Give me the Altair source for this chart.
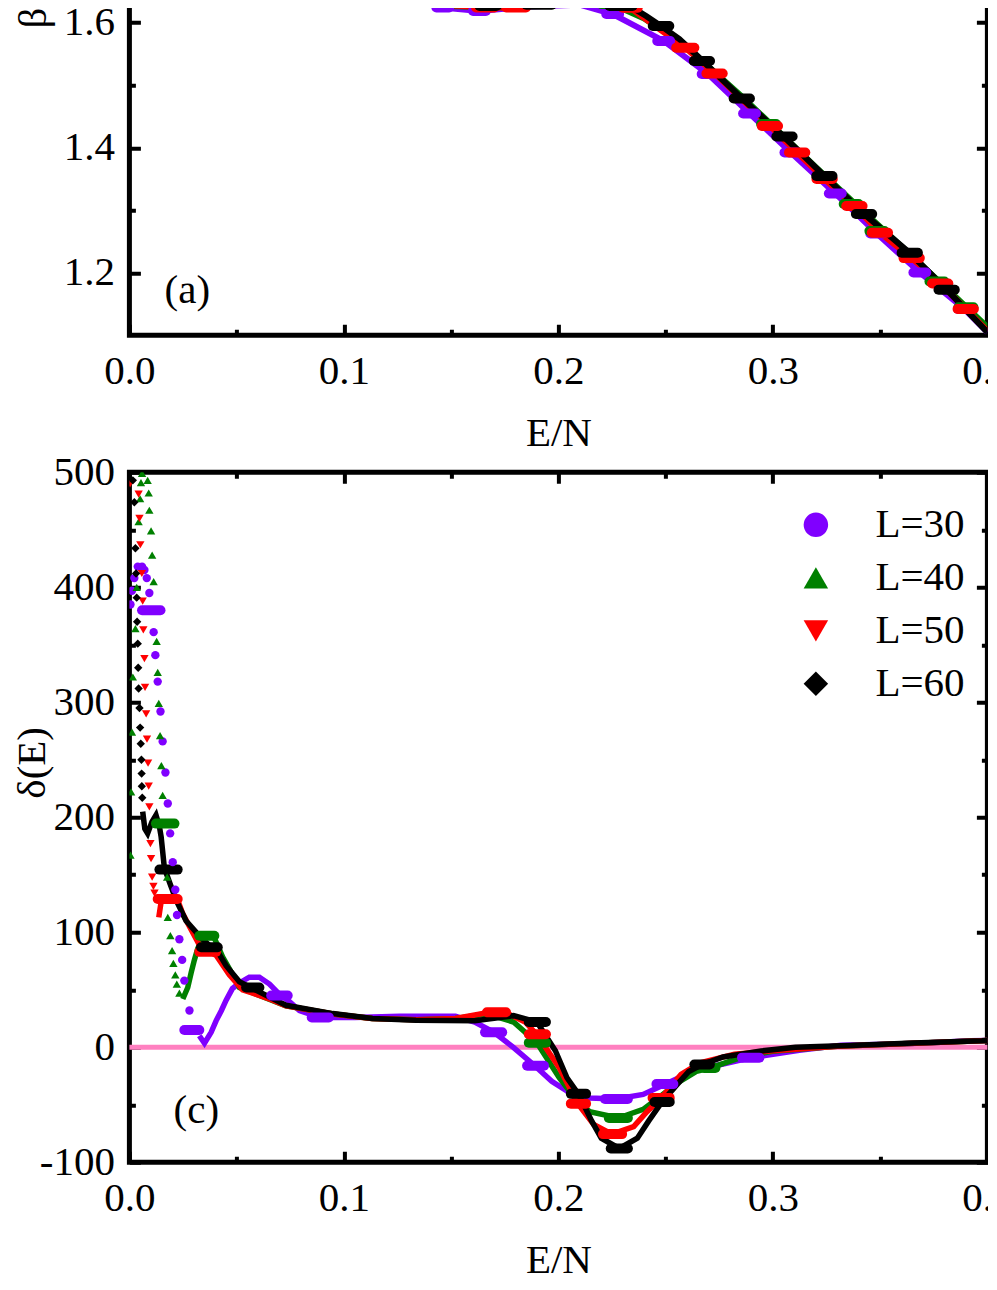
import altair as alt
import pandas as pd

# ---------------- categories / styling ----------------
SERIES = ["L=30", "L=40", "L=50", "L=60"]
COLORS = ["#8000ff", "#008000", "#ff0000", "#000000"]
SHAPES = ["circle", "triangle-up", "triangle-down", "diamond"]
PINK = "#ff80c0"
FONT = "Liberation Serif"
FS = 41

X_TICKS = [0.0, 0.1, 0.2, 0.3, 0.4]
X_MINOR = [0.05, 0.15, 0.25, 0.35]
A_Y_TICKS = [1.2, 1.4, 1.6]
A_Y_MINOR = [1.3, 1.5]
C_Y_TICKS = [-100, 0, 100, 200, 300, 400, 500]
C_Y_MINOR = [-50, 50, 150, 250, 350, 450]

# ---------------- panel (a): beta(E) ----------------
a30_line_E = [0.134, 0.146, 0.163, 0.1865, 0.210, 0.2253, 0.2491, 0.2698, 0.2891, 0.3084, 0.3291, 0.3484, 0.3685, 0.3893, 0.400]
a30_line_b = [1.640, 1.6245, 1.619, 1.626, 1.629, 1.614, 1.571, 1.518, 1.455, 1.3925, 1.327, 1.263, 1.2005, 1.142, 1.105]
a40_line_E = [0.134, 0.150, 0.170, 0.190, 0.210, 0.225, 0.240, 0.2585, 0.2855, 0.300, 0.320, 0.340, 0.360, 0.380, 0.400]
a40_line_b = [1.640, 1.627, 1.624, 1.628, 1.633, 1.630, 1.607, 1.565, 1.482, 1.435, 1.369, 1.305, 1.242, 1.178, 1.113]
a50_line_E = [0.134, 0.150, 0.166, 0.180, 0.200, 0.215, 0.2335, 0.245, 0.2592, 0.2728, 0.2986, 0.3113, 0.3241, 0.338, 0.3499, 0.3647, 0.378, 0.3899, 0.400]
a50_line_b = [1.640, 1.628, 1.6245, 1.6245, 1.632, 1.632, 1.624, 1.595, 1.560, 1.519, 1.435, 1.3925, 1.350, 1.307, 1.264, 1.2235, 1.183, 1.142, 1.107]
a60_line_E = [0.134, 0.140, 0.150, 0.163, 0.171, 0.185, 0.197, 0.2036, 0.216, 0.224, 0.2346, 0.2409, 0.2478, 0.2564, 0.2657, 0.2855, 0.305, 0.324, 0.3425, 0.3637, 0.381, 0.3986, 0.400]
a60_line_b = [1.645, 1.636, 1.631, 1.627, 1.626, 1.628, 1.630, 1.634, 1.632, 1.628, 1.624, 1.611, 1.595, 1.574, 1.544, 1.479, 1.418, 1.355, 1.294, 1.232, 1.173, 1.110, 1.105]

a30_blob_E0 = [0.1431, 0.1602, 0.2223, 0.2461, 0.2668, 0.2861, 0.3054, 0.3261, 0.3454, 0.3655, 0.3863]
a30_blob_E1 = [0.1491, 0.1662, 0.2283, 0.2521, 0.2728, 0.2921, 0.3114, 0.3321, 0.3514, 0.3715, 0.3923]
a30_blob_b = [1.6245, 1.619, 1.614, 1.571, 1.518, 1.455, 1.3925, 1.327, 1.263, 1.2005, 1.142]
a40_blob_E0 = [0.2200, 0.2945, 0.3330, 0.3450, 0.3730, 0.3865]
a40_blob_E1 = [0.2280, 0.3015, 0.3400, 0.3520, 0.3800, 0.3935]
a40_blob_b = [1.630, 1.438, 1.310, 1.267, 1.186, 1.145]
a50_blob_E0 = [0.1616, 0.1756, 0.2300, 0.2549, 0.2690, 0.2948, 0.3075, 0.3203, 0.3342, 0.3461, 0.3609, 0.3742, 0.3861]
a50_blob_E1 = [0.1702, 0.1849, 0.2370, 0.2634, 0.2766, 0.3024, 0.3151, 0.3279, 0.3418, 0.3537, 0.3685, 0.3818, 0.3937]
a50_blob_b = [1.6245, 1.6245, 1.624, 1.560, 1.519, 1.435, 1.3925, 1.350, 1.307, 1.264, 1.2235, 1.183, 1.142]
a60_blob_E0 = [0.1632, 0.1850, 0.2238, 0.2440, 0.2631, 0.2817, 0.3016, 0.3202, 0.3387, 0.3600, 0.3772]
a60_blob_E1 = [0.1710, 0.1970, 0.2346, 0.2517, 0.2707, 0.2893, 0.3092, 0.3278, 0.3463, 0.3676, 0.3848]
a60_blob_b = [1.627, 1.629, 1.627, 1.595, 1.539, 1.479, 1.418, 1.355, 1.294, 1.232, 1.173]

# ---------------- panel (c): delta(E) ----------------
c30_pts_E = [0.0005, 0.0012, 0.0023, 0.0039, 0.0059, 0.0070, 0.0081, 0.0093, 0.0113, 0.0121, 0.0132, 0.0145, 0.0155, 0.0168, 0.0179, 0.0190, 0.0202, 0.0214, 0.0222, 0.0233, 0.0246, 0.0256, 0.0280]
c30_pts_d = [385, 397, 408, 418, 418, 415, 408, 395, 361, 341, 318, 292, 266, 239, 212, 186, 161, 137, 115, 94, 76, 58, 32]
c40_pts_E = [0.0005, 0.0008, 0.0012, 0.0016, 0.0028, 0.0034, 0.0043, 0.0050, 0.0054, 0.0059, 0.0085, 0.0090, 0.0093, 0.0101, 0.0106, 0.0113, 0.0127, 0.0132, 0.0137, 0.0143, 0.0149, 0.0155, 0.0176, 0.0179, 0.0191, 0.0199, 0.0205, 0.0214, 0.0221, 0.0233]
c40_pts_d = [167, 222, 274, 322, 364, 400, 457, 477, 491, 499, 493, 482, 467, 449, 428, 405, 353, 326, 299, 271, 245, 219, 148, 113, 97, 84, 73, 63, 55, 47]
c50_pts_E = [0.0003, 0.0043, 0.0047, 0.0051, 0.0058, 0.0062, 0.0065, 0.0070, 0.0073, 0.0078, 0.0082, 0.0087, 0.0090, 0.0093, 0.0098, 0.0101, 0.0106, 0.0112, 0.0117]
c50_pts_d = [490, 481, 460, 437, 412, 388, 363, 338, 313, 290, 268, 247, 227, 209, 177, 164, 148, 140, 134]
c60_pts_E = [0.0016, 0.0023, 0.0028, 0.0031, 0.0034, 0.0036, 0.0039, 0.0041, 0.0043, 0.0047, 0.0050, 0.0053, 0.0056, 0.0057, 0.0058, 0.0060]
c60_pts_d = [493, 474, 434, 412, 391, 370, 351, 330, 312, 295, 278, 264, 250, 238, 227, 217]

c30_line_E = [0.0326, 0.0350, 0.0381, 0.0404, 0.0429, 0.0451, 0.0480, 0.0513, 0.0559, 0.0606, 0.0653, 0.0700, 0.0745, 0.0793, 0.0886, 0.1050, 0.1260, 0.1520, 0.1610, 0.1700, 0.1790, 0.1890, 0.1969, 0.2040, 0.2146, 0.2270, 0.2395, 0.2500, 0.2626, 0.2732, 0.2900, 0.3123, 0.3318, 0.3531, 0.3709, 0.3922, 0.4000]
c30_line_d = [10, 3.5, 13, 23, 32, 41, 51, 56, 61, 61, 55, 46, 40, 32, 26, 26, 27, 27, 22, 13, 0, -16, -29.5, -38, -44, -45, -41, -32, -21, -16, -9, -2.6, 1.7, 2.6, 3.8, 5.6, 6]
c40_line_E = [0.0249, 0.0272, 0.0288, 0.0303, 0.0319, 0.0350, 0.0380, 0.0396, 0.0435, 0.0482, 0.0513, 0.0580, 0.0730, 0.0950, 0.1130, 0.1340, 0.1520, 0.1667, 0.1791, 0.1900, 0.2004, 0.2076, 0.2146, 0.2280, 0.2395, 0.2466, 0.2555, 0.2643, 0.2705, 0.2856, 0.2999, 0.3300, 0.3600, 0.4000]
c40_line_d = [42, 52, 65, 76, 86, 97, 97, 95, 78.5, 63, 52, 47, 36, 29, 25, 24, 25, 29, 22, 4, -26.5, -44, -56, -61.5, -54, -44, -31, -21, -18, -8.5, -3.5, 1, 3, 6]
c50_line_E = [0.0137, 0.0150, 0.0180, 0.0225, 0.0249, 0.0280, 0.0326, 0.0365, 0.0404, 0.0466, 0.0528, 0.0575, 0.0668, 0.0730, 0.0950, 0.1130, 0.1340, 0.1520, 0.1667, 0.1756, 0.1845, 0.1900, 0.2004, 0.2090, 0.2164, 0.2250, 0.2351, 0.2413, 0.2480, 0.2572, 0.2661, 0.2821, 0.3000, 0.3300, 0.3600, 0.4000]
c50_line_d = [113, 129, 129, 128, 116, 105, 89, 84, 80, 63, 50, 47, 41, 36, 29, 25, 24, 25, 30, 30, 22, 11, -17.7, -49, -67, -75.5, -69, -56, -44, -23.6, -13.4, -6, -3, 1, 3, 6]
c60_line_E = [0.0062, 0.0072, 0.0085, 0.0105, 0.0124, 0.0140, 0.0148, 0.0163, 0.0190, 0.0218, 0.0264, 0.0326, 0.0370, 0.0412, 0.0451, 0.0513, 0.0575, 0.0730, 0.0948, 0.1134, 0.1336, 0.1610, 0.1791, 0.1900, 0.1986, 0.2040, 0.2093, 0.2155, 0.2200, 0.2284, 0.2368, 0.2421, 0.2483, 0.2555, 0.2608, 0.2670, 0.2768, 0.2945, 0.3105, 0.3389, 0.3655, 0.3975, 0.4000]
c60_line_d = [205, 190, 186, 196, 202, 192, 183, 156, 142, 128, 110, 97, 89, 83, 71, 57, 51, 36.5, 29.3, 25, 23.5, 23, 27.5, 22, -3, -26.5, -40.5, -64, -79, -88, -79, -64, -47.5, -32, -21, -15, -8.4, -3.2, 0, 1.8, 3.8, 5.6, 6]

c30_blob_E0 = [0.0059, 0.0256, 0.0661, 0.0850, 0.1658, 0.1854, 0.2217, 0.2457, 0.2856]
c30_blob_E1 = [0.0145, 0.0326, 0.0738, 0.0930, 0.1738, 0.1933, 0.2324, 0.2536, 0.2937]
c30_blob_d = [380, 15, 45, 26, 13, -16, -45, -32, -9]
c40_blob_E0 = [0.0124, 0.0326, 0.1862, 0.2235, 0.2679]
c40_blob_E1 = [0.0210, 0.0396, 0.1942, 0.2324, 0.2732]
c40_blob_d = [194.5, 97, 4, -61.5, -18]
c50_blob_E0 = [0.0132, 0.0326, 0.1667, 0.1862, 0.2058, 0.2208, 0.2439]
c50_blob_E1 = [0.0225, 0.0404, 0.1756, 0.1942, 0.2129, 0.2297, 0.2519]
c50_blob_d = [129, 83, 30.4, 11.4, -49, -75.5, -44]
c60_blob_E0 = [0.0140, 0.0334, 0.0544, 0.1862, 0.2058, 0.2244, 0.2448, 0.2634]
c60_blob_E1 = [0.0225, 0.0412, 0.0606, 0.1942, 0.2129, 0.2324, 0.2519, 0.2706]
c60_blob_d = [154.5, 87, 52, 22, -40.5, -88, -47.5, -15]

# panel tags
A_TAG, A_TAG_E, A_TAG_V = "(a)", 0.027, 1.171
C_TAG, C_TAG_E, C_TAG_V = "(c)", 0.0312, -55

# ---------------- layout ----------------
W = 858
H_A = 375
H_C = 690


def table(groups, cols):
    rows = []
    for name, arrays in zip(SERIES, groups):
        for i, vals in enumerate(zip(*arrays)):
            row = {"L": name, "i": i}
            row.update(dict(zip(cols, vals)))
            rows.append(row)
    return pd.DataFrame(rows)


a_lines = table([(a30_line_E, a30_line_b), (a40_line_E, a40_line_b), (a50_line_E, a50_line_b), (a60_line_E, a60_line_b)], ["E", "v"])
a_blobs = table([(a30_blob_E0, a30_blob_E1, a30_blob_b), (a40_blob_E0, a40_blob_E1, a40_blob_b),
                 (a50_blob_E0, a50_blob_E1, a50_blob_b), (a60_blob_E0, a60_blob_E1, a60_blob_b)], ["E0", "E1", "v"])
c_pts = table([(c30_pts_E, c30_pts_d), (c40_pts_E, c40_pts_d), (c50_pts_E, c50_pts_d), (c60_pts_E, c60_pts_d)], ["E", "v"])
c_lines = table([(c30_line_E, c30_line_d), (c40_line_E, c40_line_d), (c50_line_E, c50_line_d), (c60_line_E, c60_line_d)], ["E", "v"])
c_blobs = table([(c30_blob_E0, c30_blob_E1, c30_blob_d), (c40_blob_E0, c40_blob_E1, c40_blob_d),
                 (c50_blob_E0, c50_blob_E1, c50_blob_d), (c60_blob_E0, c60_blob_E1, c60_blob_d)], ["E0", "E1", "v"])

xs = alt.Scale(domain=[0, 0.4], nice=False, zero=False)
ys_a = alt.Scale(domain=[1.1, 1.7], nice=False, zero=False)
ys_c = alt.Scale(domain=[-100, 500], nice=False, zero=False)
cs = alt.Scale(domain=SERIES, range=COLORS)
ss = alt.Scale(domain=SERIES, range=SHAPES)
STROKE = alt.Stroke("L:N", scale=cs, legend=None)

common = dict(labelFont=FONT, labelFontSize=FS, labelColor="black", titleFont=FONT,
              titleFontSize=FS, titleFontWeight="normal", titleColor="black",
              domain=False, ticks=False, grid=True, gridColor="black", gridOpacity=1,
              gridWidth=4, labelFlush=False, labelOverlap=False)
minor_common = dict(labels=False, domain=False, ticks=False, title=None, grid=True,
                    gridColor="black", gridOpacity=1, gridWidth=4)


def x_major(H):
    return alt.Axis(orient="bottom", values=X_TICKS, format=".1f", title="E/N",
                    labelPadding=16, titlePadding=22, gridDash=[11, H - 22, 11, 4000], **common)


def x_minor(H):
    return alt.Axis(orient="bottom", values=X_MINOR, gridDash=[6, H - 12, 6, 4000], **minor_common)


def y_minor(vals):
    return alt.Axis(orient="left", values=vals, gridDash=[6, W - 12, 6, 4000], **minor_common)


ya_major = alt.Axis(orient="left", values=A_Y_TICKS, format=".1f", title="β(E)", titleAngle=270,
                    titleX=-96, titleY=31, titleAlign="center", titleBaseline="middle",
                    labelPadding=15, gridDash=[11, W - 22, 11, 4000], **common)
yc_major = alt.Axis(orient="left", values=C_Y_TICKS, labelExpr="replace(datum.label, '\u2212', '-')",
                    title="δ(E)", titleAngle=270, titleX=-97, titleY=290, titleAlign="center",
                    titleBaseline="middle", labelPadding=15, gridDash=[11, W - 22, 11, 4000], **common)

LEG = alt.Legend(orient="none", legendX=666, legendY=32, title=None, labelFont=FONT, labelFontSize=FS,
                 labelColor="black", symbolSize=600, symbolStrokeWidth=0, rowPadding=11,
                 labelOffset=39, padding=0, symbolOpacity=1)

# ---------------- panel (a) ----------------
ax_a1 = alt.Chart(a_lines).mark_point(opacity=0, clip=True).encode(
    x=alt.X("E:Q", scale=xs, axis=x_major(H_A)), y=alt.Y("v:Q", scale=ys_a, axis=ya_major))
ax_a2 = alt.Chart(a_lines).mark_point(opacity=0, clip=True).encode(
    x=alt.X("E:Q", scale=xs, axis=x_minor(H_A)), y=alt.Y("v:Q", scale=ys_a, axis=y_minor(A_Y_MINOR)))
lines_a = alt.Chart(a_lines).mark_line(strokeWidth=6, clip=True).encode(
    x=alt.X("E:Q", scale=xs, axis=None), y=alt.Y("v:Q", scale=ys_a, axis=None),
    stroke=STROKE, order="i:Q")
blobs_a = alt.Chart(a_blobs).mark_rule(strokeWidth=10, strokeCap="round", clip=True).encode(
    x=alt.X("E0:Q", scale=xs, axis=None), x2="E1:Q", y=alt.Y("v:Q", scale=ys_a, axis=None),
    stroke=STROKE)
tag_a = alt.Chart(pd.DataFrame({"E": [A_TAG_E], "v": [A_TAG_V], "t": [A_TAG]})).mark_text(
    font=FONT, fontSize=FS, color="black").encode(
    x=alt.X("E:Q", scale=xs, axis=None), y=alt.Y("v:Q", scale=ys_a, axis=None), text="t:N")

panel_a = alt.layer(ax_a1, ax_a2, lines_a, blobs_a, tag_a).properties(width=W, height=H_A).resolve_axis(
    x="independent", y="independent")

# ---------------- panel (c) ----------------
ax_c1 = alt.Chart(c_lines).mark_point(opacity=0, clip=True).encode(
    x=alt.X("E:Q", scale=xs, axis=x_major(H_C)), y=alt.Y("v:Q", scale=ys_c, axis=yc_major))
ax_c2 = alt.Chart(c_lines).mark_point(opacity=0, clip=True).encode(
    x=alt.X("E:Q", scale=xs, axis=x_minor(H_C)), y=alt.Y("v:Q", scale=ys_c, axis=y_minor(C_Y_MINOR)))
zero_c = alt.Chart(pd.DataFrame({"v": [0]})).mark_rule(color=PINK, strokeWidth=5).encode(
    y=alt.Y("v:Q", scale=ys_c, axis=None))
lines_c = alt.Chart(c_lines).mark_line(strokeWidth=5.5, clip=True).encode(
    x=alt.X("E:Q", scale=xs, axis=None), y=alt.Y("v:Q", scale=ys_c, axis=None),
    stroke=STROKE, order="i:Q")
blobs_c = alt.Chart(c_blobs).mark_rule(strokeWidth=10, strokeCap="round", clip=True).encode(
    x=alt.X("E0:Q", scale=xs, axis=None), x2="E1:Q", y=alt.Y("v:Q", scale=ys_c, axis=None),
    stroke=STROKE)
pts_c = alt.Chart(c_pts).mark_point(filled=True, size=70, opacity=1, clip=True).encode(
    x=alt.X("E:Q", scale=xs, axis=None), y=alt.Y("v:Q", scale=ys_c, axis=None),
    color=alt.Color("L:N", scale=cs, legend=LEG), shape=alt.Shape("L:N", scale=ss, legend=LEG))
tag_c = alt.Chart(pd.DataFrame({"E": [C_TAG_E], "v": [C_TAG_V], "t": [C_TAG]})).mark_text(
    font=FONT, fontSize=FS, color="black").encode(
    x=alt.X("E:Q", scale=xs, axis=None), y=alt.Y("v:Q", scale=ys_c, axis=None), text="t:N")

panel_c = alt.layer(ax_c1, ax_c2, zero_c, lines_c, blobs_c, pts_c, tag_c).properties(
    width=W, height=H_C).resolve_axis(x="independent", y="independent")

chart = alt.vconcat(panel_a, panel_c, spacing=137, bounds="flush").resolve_legend(
    color="independent", shape="independent").configure_view(
    stroke="black", strokeWidth=5).properties(
    padding={"top": -56.7, "left": 0.4, "right": -28, "bottom": -10}, background="white")

chart.save("out.html", embed_options={"renderer": "svg", "actions": False})
